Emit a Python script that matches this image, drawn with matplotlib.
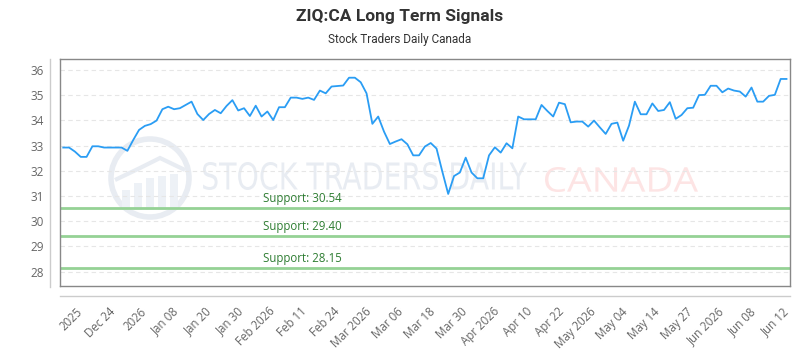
import matplotlib
matplotlib.use("Agg")
import matplotlib.pyplot as plt
import numpy as np
from matplotlib.lines import Line2D
from matplotlib.patches import Circle, Rectangle, PathPatch, Polygon
from matplotlib.textpath import TextPath
from matplotlib.font_manager import FontProperties
from matplotlib.transforms import Affine2D

# ---- data ----
prices = [32.92, 32.92, 32.76, 32.55, 32.55, 32.97, 32.97, 32.92, 32.92, 32.92,
          32.92, 32.79, 33.22, 33.62, 33.78, 33.85, 33.99, 34.44, 34.54, 34.44,
          34.48, 34.61, 34.74, 34.25, 34.01, 34.25, 34.41, 34.28, 34.57, 34.80,
          34.39, 34.48, 34.17, 34.58, 34.15, 34.35, 34.01, 34.52, 34.52, 34.90,
          34.90, 34.85, 34.90, 34.81, 35.18, 35.07, 35.34, 35.36, 35.38, 35.69,
          35.69, 35.51, 35.07, 33.86, 34.15, 33.55, 33.06, 33.16, 33.25, 33.05,
          32.61, 32.61, 32.96, 33.10, 32.88, 31.96, 31.08, 31.79, 31.93, 32.52,
          31.93, 31.70, 31.70, 32.61, 32.93, 32.72, 33.09, 32.89, 34.15, 34.04,
          34.04, 34.04, 34.61, 34.37, 34.15, 34.70, 34.64, 33.92, 33.95, 33.95,
          33.75, 33.99, 33.72, 33.46, 33.86, 33.91, 33.19, 33.79, 34.74, 34.24,
          34.24, 34.67, 34.37, 34.41, 34.72, 34.06, 34.21, 34.48, 34.50, 35.00,
          35.01, 35.37, 35.37, 35.11, 35.26, 35.18, 35.14, 34.94, 35.30, 34.74,
          34.74, 34.97, 35.01, 35.64, 35.64]
tick_labels = ["2025", "Dec 24", "2026", "Jan 08", "Jan 20", "Jan 30", "Feb 2026",
               "Feb 11", "Feb 24", "Mar 2026", "Mar 06", "Mar 18", "Mar 30",
               "Apr 2026", "Apr 10", "Apr 22", "May 2026", "May 04", "May 14",
               "May 27", "Jun 2026", "Jun 08", "Jun 12"]
support_levels = [30.54, 29.40, 28.15]
support_labels = ["Support: 30.54", "Support: 29.40", "Support: 28.15"]
y_ticks = [28, 29, 30, 31, 32, 33, 34, 35, 36]

title = "ZIQ:CA Long Term Signals"
subtitle = "Stock Traders Daily Canada"

plt.rcParams['font.family'] = ['Open Sans', 'DejaVu Sans']

W, H = 800, 350
fig = plt.figure(figsize=(8, 3.5), dpi=100)
fig.patch.set_facecolor('white')
ax = fig.add_axes([0.0754, 0.1829, 0.9121, 0.6477])

# pixel (top-left origin) -> figure transform
PX = Affine2D().scale(1 / W, -1 / H).translate(0, 1) + fig.transFigure

x = np.arange(len(prices))
ax.set_xlim(-0.5, 124.6)
ax.set_ylim(27.43, 36.42)

# gridlines
ax.set_yticks(y_ticks)
ax.yaxis.grid(True, color='#e6e6e6', linestyle=(0, (4, 3)), linewidth=0.8)
ax.set_axisbelow(True)

# ---- watermark ----
wm_gray = '#e8ecf2'


def fit_text(s, x0, x1, ytop, ybot, color, family):
    tp = TextPath((0, 0), s, size=100, prop=FontProperties(family=family))
    bb = tp.get_extents()
    sx = (x1 - x0) / bb.width
    sy = (ybot - ytop) / bb.height
    tr = Affine2D().translate(-bb.x0, -bb.y0).scale(sx, -sy).translate(x0, ybot) + PX
    p = PathPatch(tp, facecolor=color, edgecolor='none', transform=tr, zorder=0.5)
    ax.add_patch(p)


fit_text("STOCK TRADERS DAILY", 203, 527, 162, 190, wm_gray, 'DejaVu Sans')
fit_text("CANADA", 545, 698, 167, 192, '#fde4e4', 'Open Sans')
ax.add_patch(Circle((150, 178), 39, transform=PX, fill=False, ec=wm_gray, lw=4, zorder=0.5))
for bx, btop in [(122, 190), (134, 183), (146, 178), (158, 176), (170, 174)]:
    ax.add_patch(Rectangle((bx, btop), 8, 210 - btop, transform=PX, fc='#edf1f6',
                           ec='none', zorder=0.5))
ax.add_patch(Polygon([(115, 180), (140, 168), (160, 158), (185, 170)], closed=False,
                     fill=False, ec=wm_gray, lw=3, transform=PX, zorder=0.5))

# supports
for lvl, lab in zip(support_levels, support_labels):
    ax.axhline(lvl, color='#95d295', linewidth=2, zorder=2)
    ax.text(34.3, lvl + 0.12, lab, color='#2e7d32', fontsize=8.3, va='bottom', ha='left', zorder=3)

ax.plot(x, prices, color='#2a9df4', linewidth=1.3, zorder=4)

# ticks
tick_pos = np.linspace(3, 124, len(tick_labels))
ax.set_xticks(tick_pos)
ax.set_xticklabels(tick_labels, rotation=45, ha='right', va='center',
                   rotation_mode='anchor', fontsize=8.3, color='#666666')
ax.tick_params(axis='x', length=0, pad=17)
ax.tick_params(axis='y', length=0, pad=12, labelsize=8.5, labelcolor='#666666')
for s in ax.spines.values():
    s.set_color('#888888')
    s.set_linewidth(1)

ax.set_ylabel("Price", fontsize=10, color='#333333', labelpad=19)

# outer axis lines
fig.add_artist(Line2D([50, 50], [59, 287], color='#cccccc', lw=1, transform=PX))
fig.add_artist(Line2D([60, 790], [296, 296], color='#cccccc', lw=1, transform=PX))

fig.text(0.5, 1 - 16 / H, title, ha='center', va='center', fontsize=12.5,
         fontweight='bold', color='#333333', family=['Roboto', 'DejaVu Sans'])
fig.text(0.5, 1 - 40 / H, subtitle, ha='center', va='center', fontsize=8.5,
         color='#333333', family=['Roboto', 'DejaVu Sans'])

fig.savefig("out.png", dpi=100, facecolor='white')
